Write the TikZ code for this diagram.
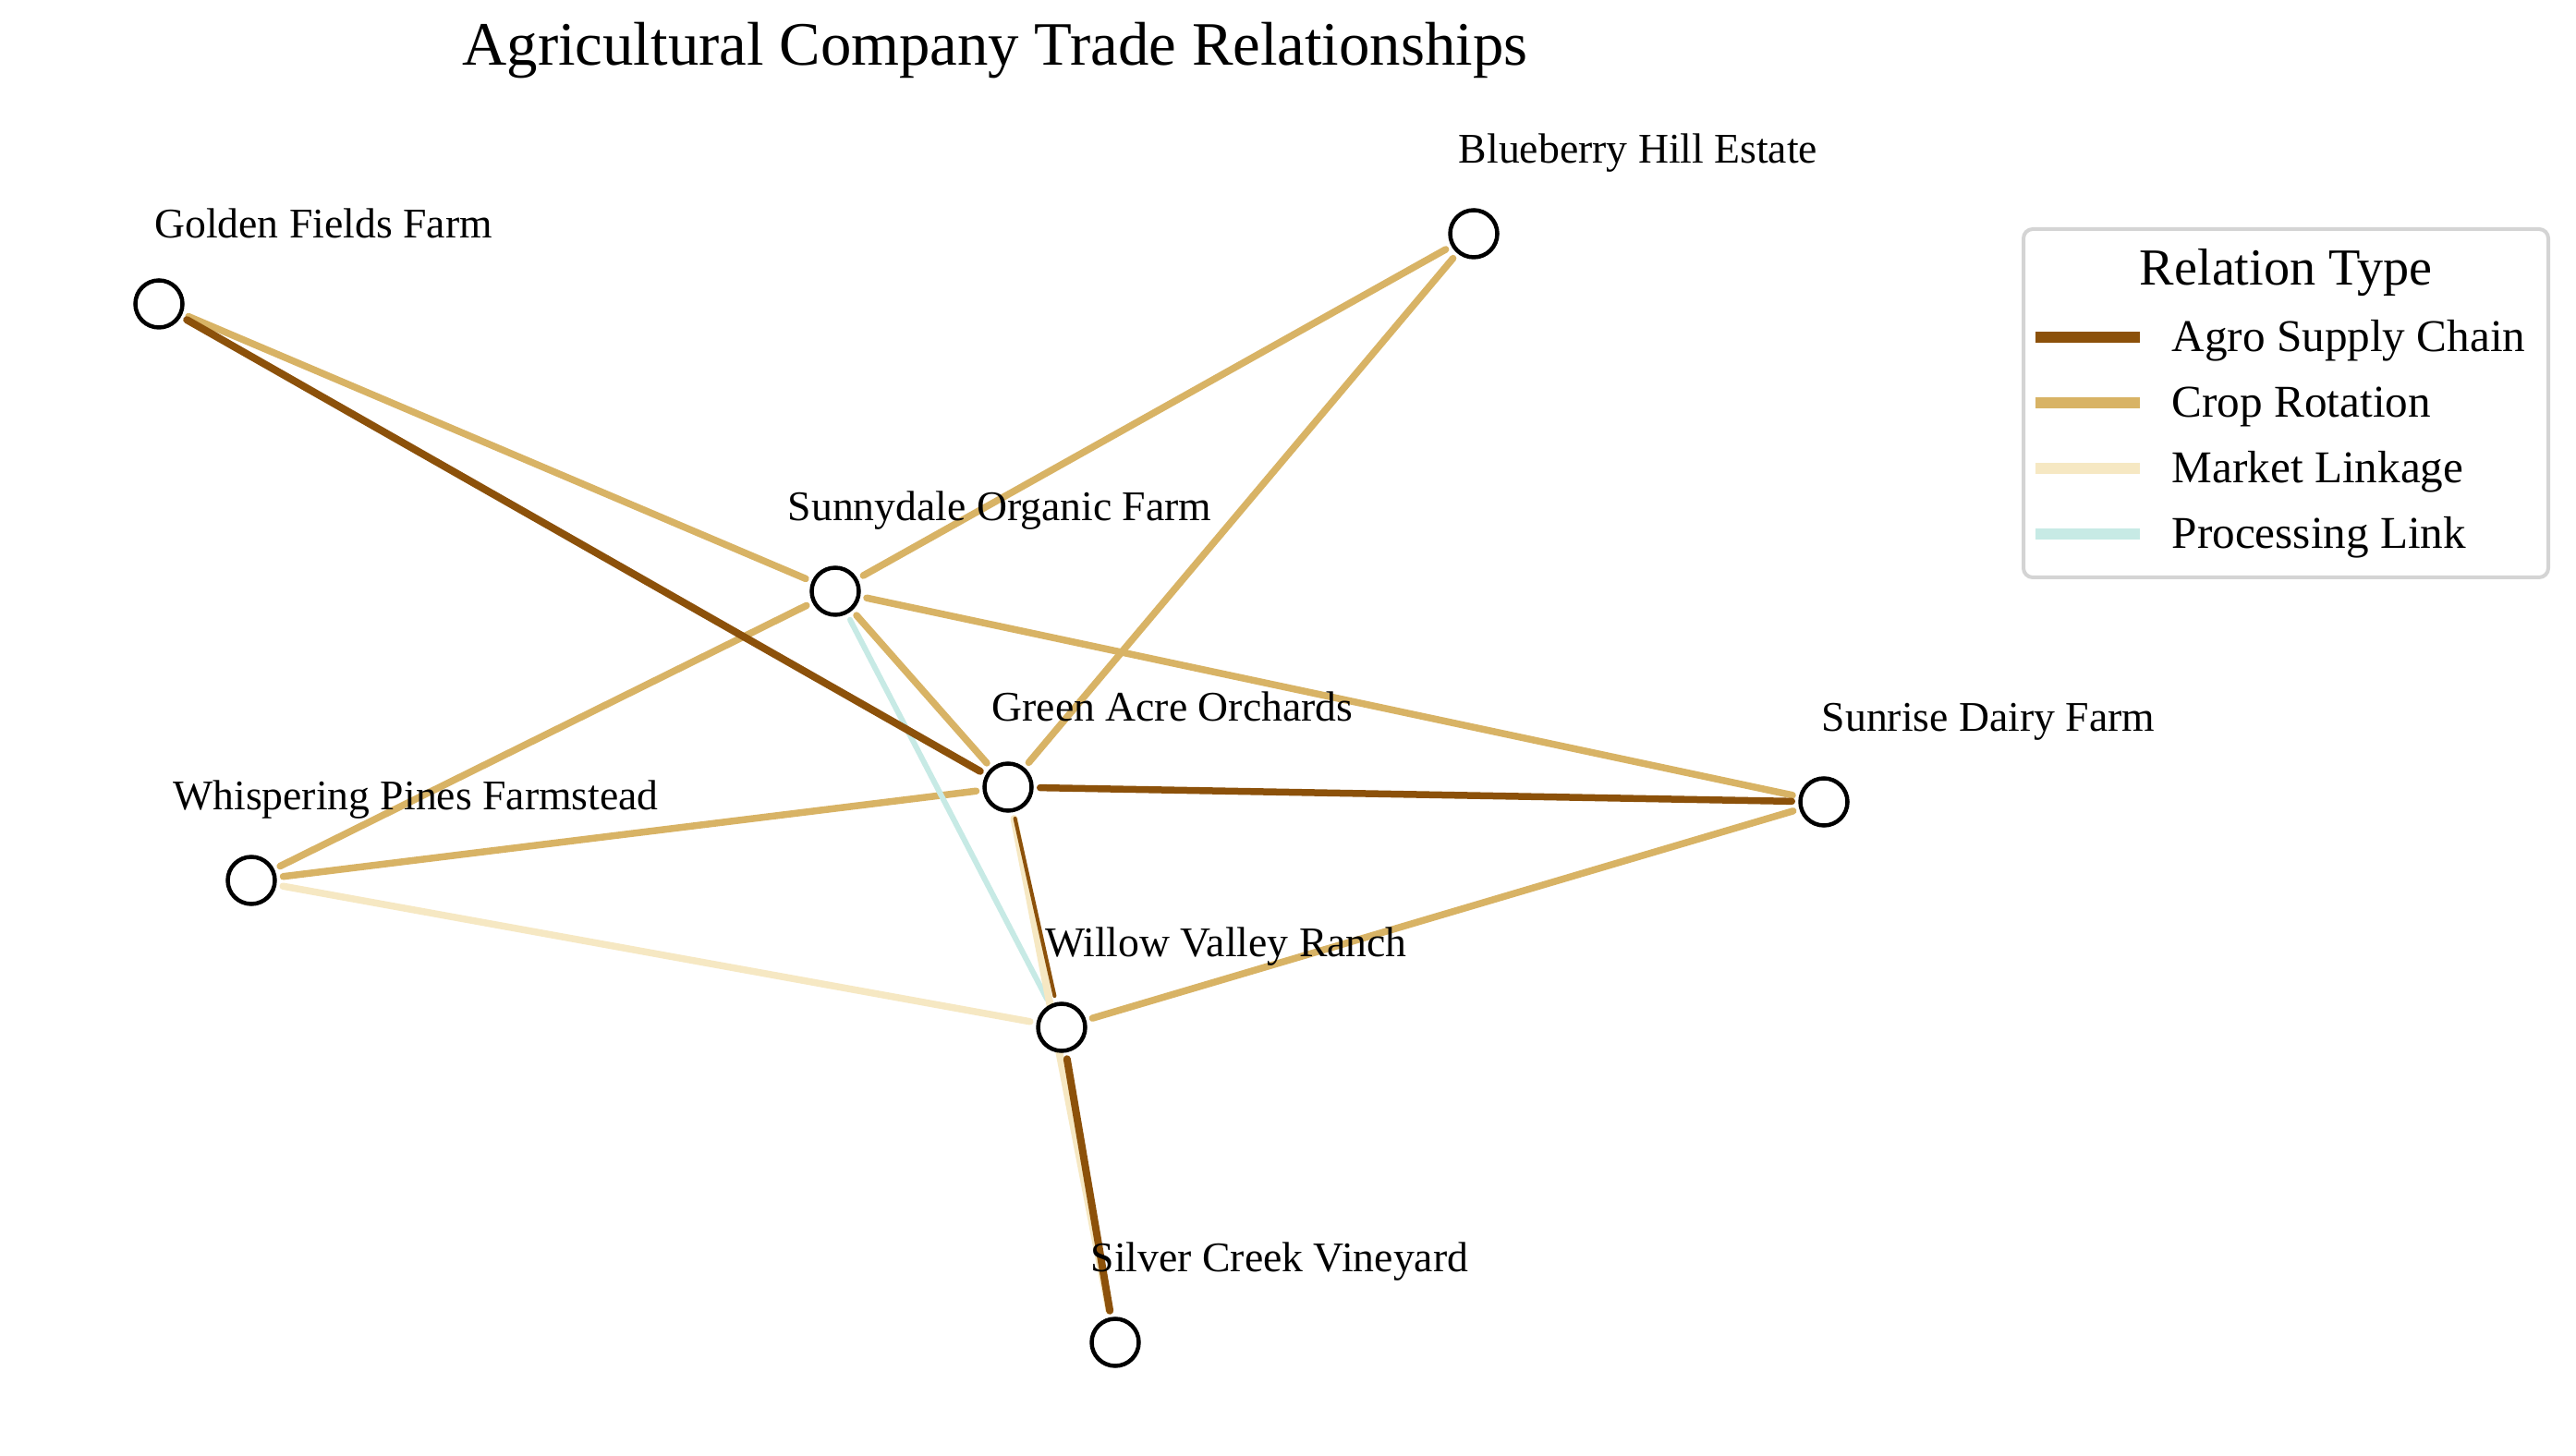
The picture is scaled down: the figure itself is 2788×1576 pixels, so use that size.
\documentclass[tikz,border=0pt]{standalone}
\usepackage{fontspec}
\setmainfont{Liberation Serif}
\usetikzlibrary{backgrounds}
\definecolor{agro}{HTML}{8C510A}
\definecolor{crop}{HTML}{D8B365}
\definecolor{market}{HTML}{F6E8C3}
\definecolor{proc}{HTML}{C7EAE5}
\definecolor{legframe}{HTML}{D4D4D4}
\begin{document}
\begin{tikzpicture}[x=0.1mm, y=-0.1mm,
  farm/.style={circle, draw=black, fill=white, line width=0.45mm, minimum size=5.1mm, inner sep=0pt},
  farmlabel/.style={font=\fontsize{13}{15}\selectfont, inner sep=0pt},
  link/.style={line width=0.75mm, line cap=round, shorten >=0.7mm, shorten <=0.7mm}]
\useasboundingbox (0,0) rectangle (2788,1576);
\node[font=\fontsize{19}{23}\selectfont] (title) at (1077,55) {Agricultural Company Trade Relationships};
% farms
\node[farm] (golden) at (172,329) {};
\node[farm] (blue) at (1595,253) {};
\node[farm] (sunny) at (904,640) {};
\node[farm] (green) at (1091,852) {};
\node[farm] (sunrise) at (1974,868) {};
\node[farm] (whisper) at (272,953) {};
\node[farm] (willow) at (1149,1112) {};
\node[farm] (silver) at (1207,1453) {};
\node[farmlabel] (goldenL) at ([shift={(178,-87)}]golden) {Golden Fields Farm};
\node[farmlabel] (blueL) at ([shift={(178,-87)}]blue) {Blueberry Hill Estate};
\node[farmlabel] (sunnyL) at ([shift={(178,-87)}]sunny) {Sunnydale Organic Farm};
\node[farmlabel] (greenL) at ([shift={(178,-87)}]green) {Green Acre Orchards};
\node[farmlabel] (sunriseL) at ([shift={(178,-87)}]sunrise) {Sunrise Dairy Farm};
\node[farmlabel] (whisperL) at ([shift={(178,-87)}]whisper) {Whispering Pines Farmstead};
\node[farmlabel] (willowL) at ([shift={(178,-87)}]willow) {Willow Valley Ranch};
\node[farmlabel] (silverL) at ([shift={(178,-87)}]silver) {Silver Creek Vineyard};
% trade links
\begin{pgfonlayer}{background}
\draw[link, crop] (golden) -- (sunny);
\draw[link, crop] (blue) -- (sunny);
\draw[link, crop] (blue) -- (green);
\draw[link, crop] (sunny) -- (green);
\draw[link, crop] (sunny) -- (sunrise);
\draw[link, crop] (sunny) -- (whisper);
\draw[link, crop] (green) -- (whisper);
\draw[link, crop] (willow) -- (sunrise);
\draw[link, proc, line width=0.6mm] (sunny) -- (willow);
\draw[link, market] (whisper) -- (willow);
\draw[link, market, line width=0.8mm] (green) -- (silver);
\draw[link, agro, line width=0.8mm] (golden) -- (green);
\draw[link, agro] (green) -- (sunrise);
\draw[link, agro, line width=0.4mm] (green) -- (willow);
\draw[link, agro, line width=0.8mm] (willow) -- (silver);
\end{pgfonlayer}
% legend
\draw[legframe, line width=0.4mm, rounded corners=1mm, fill=white] (2190,248) rectangle (2758,625);
\node[font=\fontsize{16}{19}\selectfont] (legtitle) at (2474,295) {Relation Type};
\foreach \col/\txt [count=\i] in {agro/Agro Supply Chain, crop/Crop Rotation, market/Market Linkage, proc/Processing Link} {
  \coordinate (sw\i a) at (2203,294+71*\i);
  \coordinate (sw\i b) at (2316,294+71*\i);
  \draw[\col, line width=1.2mm] (sw\i a) -- (sw\i b);
  \node[font=\fontsize{14}{17}\selectfont, anchor=west, inner sep=0pt] (leg\i) at (2350,298+71*\i) {\txt};
}
\end{tikzpicture}
\end{document}
